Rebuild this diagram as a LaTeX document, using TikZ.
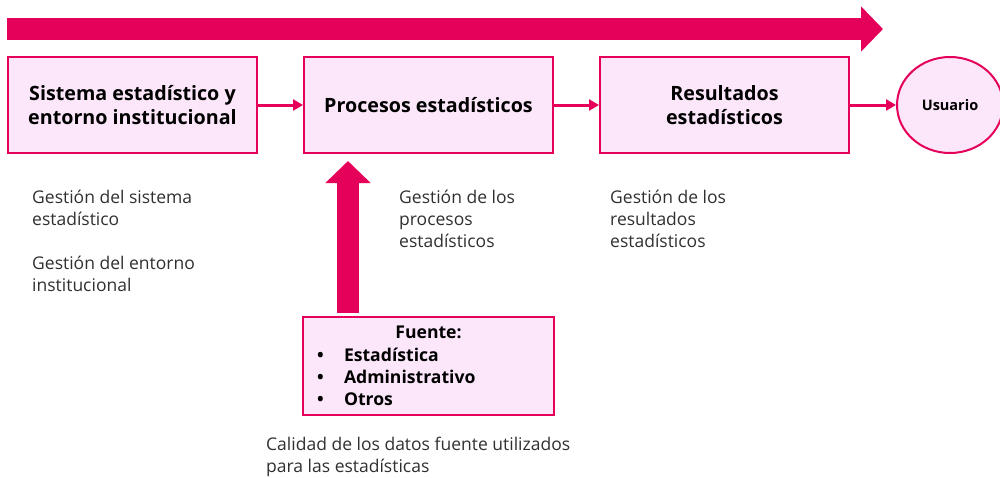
\documentclass[tikz,border=0pt]{standalone}
\usepackage{fontspec}
\setmainfont{Open Sans}
\usepackage{xcolor}
\usetikzlibrary{arrows, arrows.meta, shapes.geometric}

\definecolor{rosa}{HTML}{E5005A}
\definecolor{rosaclaro}{HTML}{FCE6F9}
\definecolor{textogris}{HTML}{303030}

\tikzset{
  caja/.style={draw=rosa, line width=2pt, fill=rosaclaro, minimum width=249pt, minimum height=96pt, align=center, font=\bfseries\fontsize{19.7}{24.5}\selectfont},
  flecha/.style={draw=rosa, line width=3pt, -{Triangle[length=10pt,width=11pt]}},
  flechagrande/.style={draw=rosa, line width=22pt, -{Triangle[length=22pt,width=44pt]}},
  nota/.style={anchor=base west, align=left, inner sep=0pt, text=textogris, font=\fontsize{17.5}{22}\selectfont},
}

\begin{document}
\begin{tikzpicture}[x=1pt,y=-1pt]
\useasboundingbox (0,0) rectangle (1000,477);

%\draw[step=50,gray,very thin] (0,0) grid (1000,477); %help grid

\coordinate (inicio) at (7,29);
\coordinate (fin) at (883,29);
\draw[flechagrande] (inicio) -- (fin); %big top arrow

\node[caja] (sistema) at (132.5,105) {Sistema estadístico y\\entorno institucional};
\node[caja] (procesos) at (428.5,105) {Procesos estadísticos};
\node[caja] (resultados) at (724.5,105) {Resultados\\estadísticos};
\node[ellipse, draw=rosa, line width=2pt, fill=rosaclaro, minimum width=106pt, minimum height=96pt, font=\bfseries\fontsize{14.5}{16}\selectfont] (usuario) at (950,105) {Usuario};

\draw[flecha] (sistema.east) -- (procesos.west);
\draw[flecha] (procesos.east) -- (resultados.west);
\draw[flecha] (resultados.east) -- (usuario.west);

\node[caja, minimum width=251pt, minimum height=98pt, text width=223pt, inner xsep=14pt, align=left, font=\bfseries\fontsize{17.6}{22.3}\selectfont] (fuente) at (428.5,366)
  {\centering Fuente:\par
   \raggedright\makebox[27pt][l]{•}Estadística\\
   \makebox[27pt][l]{•}Administrativo\\
   \makebox[27pt][l]{•}Otros};

\draw[flechagrande, shorten <=3pt, shorten >=7pt] ([xshift=-80.5pt]fuente.north) -- ([xshift=-80.5pt]procesos.south); %up arrow

% base = baseline of the last line
\node[nota] (notasistema) at (32,225) {Gestión del sistema\\estadístico};
\node[nota] (notaentorno) at (32,291) {Gestión del entorno\\institucional};
\node[nota] (notaprocesos) at (399,247) {Gestión de los\\procesos\\estadísticos};
\node[nota] (notaresultados) at (610,247) {Gestión de los\\resultados\\estadísticos};
\node[nota] (notafuente) at (266,472) {Calidad de los datos fuente utilizados\\para las estadísticas};
\end{tikzpicture}
\end{document}
